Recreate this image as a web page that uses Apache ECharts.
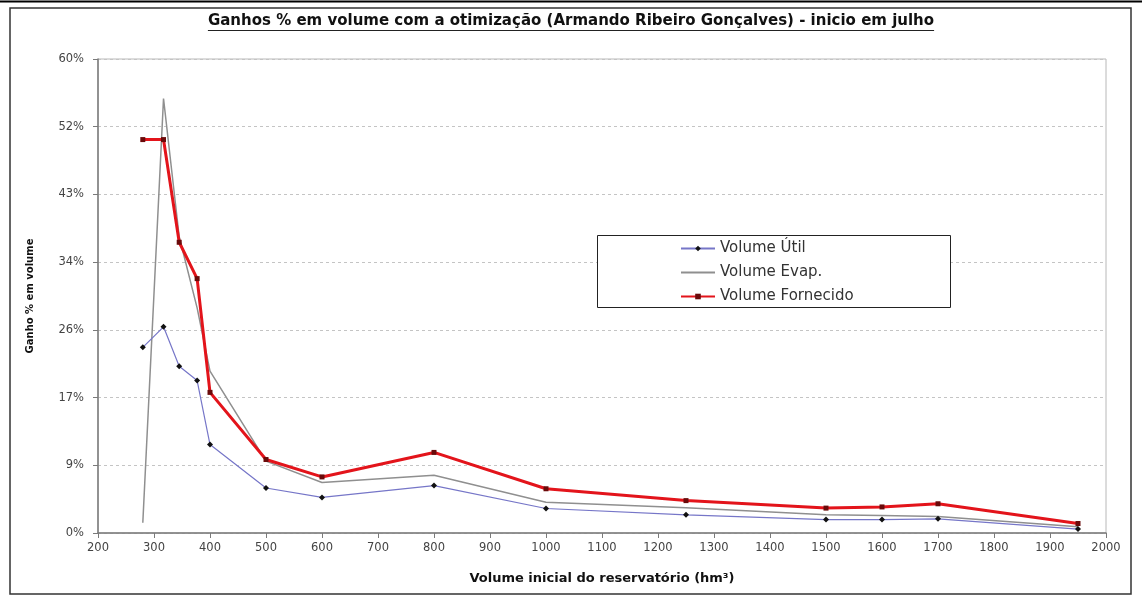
<!DOCTYPE html>
<html>
<head>
<meta charset="utf-8">
<title>Ganhos % em volume com a otimização</title>
<script src="https://cdn.jsdelivr.net/npm/echarts@6/dist/echarts.min.js"></script>
<style>
  html, body { margin: 0; padding: 0; background: #fff; }
  #chart { width: 1142px; height: 601px; }
</style>
</head>
<body>
<div id="chart"></div>
<script>
// Initial reservoir volume (hm³) for each simulation run
const volumes = [280, 317, 345, 377, 400, 500, 600, 800, 1000, 1250, 1500, 1600, 1700, 1950];

// Percentage gains in volume with the optimisation
const volumeUtil = [23.5, 26.1, 21.1, 19.3, 11.2, 5.7, 4.5, 6.0, 3.1, 2.3, 1.7, 1.7, 1.8, 0.5];
const volumeEvap = [1.3, 55.0, 37.5, 28.5, 20.5, 9.1, 6.4, 7.3, 3.9, 3.2, 2.3, 2.2, 2.1, 0.8];
const volumeFornecido = [49.8, 49.8, 36.8, 32.2, 17.8, 9.3, 7.1, 10.2, 5.6, 4.1, 3.15, 3.3, 3.7, 1.2];

// Y axis divided in seven equal steps from 0 to 60 %
const yTickLabels = ['0%', '9%', '17%', '26%', '34%', '43%', '52%', '60%'];
const yMax = 60;
const yStep = yMax / 7;

const seriesNames = ['Volume Útil', 'Volume Evap.', 'Volume Fornecido'];
const titleText = 'Ganhos % em volume com a otimização (Armando Ribeiro Gonçalves) - inicio em julho';

const FONT = '"DejaVu Sans", Verdana, sans-serif';
const titleFontSize = 15;
const titleY = 14;
const W = 1142;

function pairs(ys) {
  return volumes.map((x, i) => [x, ys[i]]);
}

// width of the title, used for its underline
const ctx = document.createElement('canvas').getContext('2d');
ctx.font = 'bold ' + titleFontSize + 'px ' + FONT;
const titleWidth = ctx.measureText(titleText).width;

const chart = echarts.init(document.getElementById('chart'), null, { renderer: 'canvas' });

chart.setOption({
  backgroundColor: '#ffffff',
  animation: false,
  textStyle: { fontFamily: FONT },
  title: {
    text: titleText,
    left: 'center',
    top: titleY,
    padding: 0,
    textStyle: { fontFamily: FONT, fontSize: titleFontSize, fontWeight: 'bold', color: '#111' }
  },
  graphic: [
    // page frame
    { type: 'rect', shape: { x: 10, y: 8, width: 1121, height: 586 },
      style: { fill: 'none', stroke: '#333', lineWidth: 1.5 }, silent: true },
    { type: 'line', shape: { x1: 0, y1: 1.5, x2: W, y2: 1.5 },
      style: { stroke: '#000', lineWidth: 2 }, silent: true },
    // title underline
    { type: 'line',
      shape: { x1: (W - titleWidth) / 2, y1: titleY + titleFontSize + 1.5,
               x2: (W + titleWidth) / 2, y2: titleY + titleFontSize + 1.5 },
      style: { stroke: '#222', lineWidth: 1 }, silent: true },
    // legend box
    { type: 'rect', shape: { x: 597.5, y: 235.5, width: 353, height: 72 },
      style: { fill: '#fff', stroke: '#222', lineWidth: 1 }, silent: true, z: 5 }
  ],
  legend: {
    orient: 'vertical',
    left: 680,
    top: 240,
    padding: 0,
    itemGap: 7,
    itemWidth: 34,
    itemHeight: 7,
    z: 10,
    textStyle: { fontFamily: FONT, fontSize: 15, lineHeight: 17, color: '#333' },
    data: [
      { name: seriesNames[0] },
      { name: seriesNames[1], itemStyle: { opacity: 0 } },
      { name: seriesNames[2] }
    ]
  },
  grid: {
    left: 98, right: 36, top: 59, bottom: 68,
    show: true, borderColor: '#b8b8b8', borderWidth: 1, backgroundColor: 'transparent'
  },
  xAxis: {
    type: 'value',
    min: 200, max: 2000, interval: 100,
    name: 'Volume inicial do reservatório (hm³)',
    nameLocation: 'middle',
    nameGap: 39,
    nameTextStyle: { fontFamily: FONT, fontSize: 13, fontWeight: 'bold', color: '#111' },
    axisLine: { show: true, lineStyle: { color: '#7a7a7a', width: 1.5 } },
    axisTick: { show: true, length: 5, lineStyle: { color: '#7a7a7a' } },
    axisLabel: { fontFamily: FONT, fontSize: 11.5, color: '#444', margin: 9,
      formatter: v => String(v) },
    splitLine: { show: false }
  },
  yAxis: {
    type: 'value',
    min: 0, max: yMax, interval: yStep,
    name: 'Ganho % em volume',
    nameLocation: 'middle',
    nameGap: 63,
    nameRotate: 90,
    nameTextStyle: { fontFamily: FONT, fontSize: 10, fontWeight: 'bold', color: '#111' },
    axisLine: { show: true, lineStyle: { color: '#7a7a7a', width: 1.5 } },
    axisTick: { show: true, length: 5, lineStyle: { color: '#7a7a7a' } },
    axisLabel: {
      fontFamily: FONT, fontSize: 11.5, color: '#444', margin: 14,
      formatter: v => yTickLabels[Math.round(v / yStep)] || ''
    },
    splitLine: { show: true, lineStyle: { color: '#c4c4c4', type: [3, 3], width: 1 } }
  },
  series: [
    {
      name: seriesNames[0],
      type: 'line',
      data: pairs(volumeUtil),
      symbol: 'diamond',
      symbolSize: 6,
      lineStyle: { color: '#7676c8', width: 1.2 },
      itemStyle: { color: '#111' },
      z: 3
    },
    {
      name: seriesNames[1],
      type: 'line',
      data: pairs(volumeEvap),
      symbol: 'none',
      lineStyle: { color: '#8f8f8f', width: 1.5 },
      itemStyle: { color: '#8f8f8f' },
      z: 2
    },
    {
      name: seriesNames[2],
      type: 'line',
      data: pairs(volumeFornecido),
      symbol: 'rect',
      symbolSize: 5,
      lineStyle: { color: '#e3141b', width: 3 },
      itemStyle: { color: '#6a0a0a' },
      z: 4
    }
  ]
});
</script>
</body>
</html>
